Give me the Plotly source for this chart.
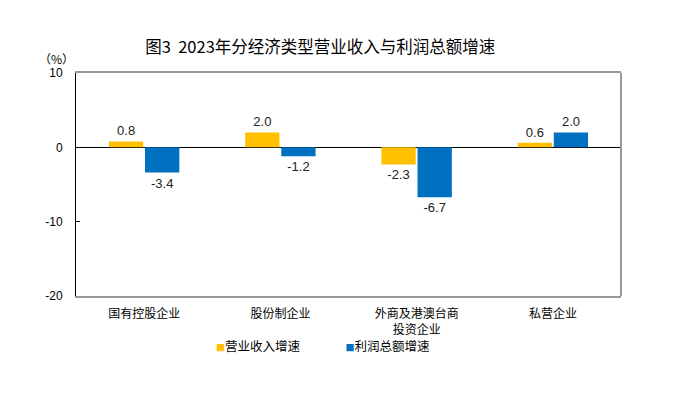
import plotly.graph_objects as go

categories = ["国有控股企业", "股份制企业", "外商及港澳台商<br>投资企业", "私营企业"]
revenue = [0.8, 2.0, -2.3, 0.6]
profit = [-3.4, -1.2, -6.7, 2.0]
series_names = ["营业收入增速", "利润总额增速"]
colors = ["#FFC000", "#0070C0"]
y_ticks = [10, 0, -10, -20]

cjk = "Noto Sans CJK SC"
num = "Liberation Sans"

fig = go.Figure()
for vals, name, col in zip([revenue, profit], series_names, colors):
    fig.add_trace(go.Bar(
        x=categories, y=vals, name=name, marker=dict(color=col, line=dict(width=0)),
        text=[f"{v:.1f}" for v in vals], textposition="outside",
        textfont=dict(family=num, size=13, color="#222222"),
        cliponaxis=False, showlegend=False,
    ))
for name, col in zip(series_names, colors):
    fig.add_trace(go.Scatter(
        x=[None], y=[None], mode="markers",
        name=f"<span style='font-size:9px;color:{col}'>■</span>{name}",
        marker=dict(symbol="square", size=1, color="rgba(0,0,0,0)",
                    line=dict(width=0, color="rgba(0,0,0,0)")),
    ))

fig.update_layout(
    width=677, height=396,
    margin=dict(l=76, r=56, t=73, b=100, autoexpand=False),
    paper_bgcolor="white", plot_bgcolor="white",
    barmode="group", bargap=0.47, bargroupgap=0.05,
    title=dict(text="图3  2023年分经济类型营业收入与利润总额增速",
               x=0.473, xanchor="center", y=1 - 47 / 396, yanchor="middle",
               font=dict(family=cjk, size=16.5, color="#000000")),
    legend=dict(orientation="h", x=0.422, xanchor="center", y=-0.225, yanchor="middle",
                font=dict(family=cjk, size=12.5, color="#000000"),
                bgcolor="rgba(0,0,0,0)",
                itemwidth=30, tracegroupgap=0, itemclick=False),
    font=dict(family=cjk, color="#000000"),
    showlegend=True,
)
fig.update_xaxes(
    type="category", showgrid=False, ticks="",
    showline=True, linecolor="#999999", linewidth=2, mirror=True,
    ticklabelstandoff=6,
    tickfont=dict(family=cjk, size=12, color="#000000"),
)
fig.update_yaxes(
    range=[-20, 10], tickvals=y_ticks, ticktext=[str(v) for v in y_ticks],
    showgrid=False, zeroline=True, zerolinecolor="#000000", zerolinewidth=1,
    showline=True, linecolor="#000000", linewidth=1,
    ticks="inside", ticklen=4, tickcolor="#000000", ticklabelstandoff=10,
    tickfont=dict(family=num, size=12, color="#000000"),
)
fig.add_shape(type="line", xref="paper", yref="paper", x0=1, x1=1, y0=0, y1=1,
              line=dict(color="#999999", width=2))
fig.add_annotation(text="（%）", xref="paper", yref="paper", x=-0.035, y=1.065,
                   xanchor="center", yanchor="middle", showarrow=False,
                   font=dict(family=cjk, size=12, color="#000000"))

fig.write_html("out.html", config={"displayModeBar": False},
               post_script="document.body.style.margin='0';")
